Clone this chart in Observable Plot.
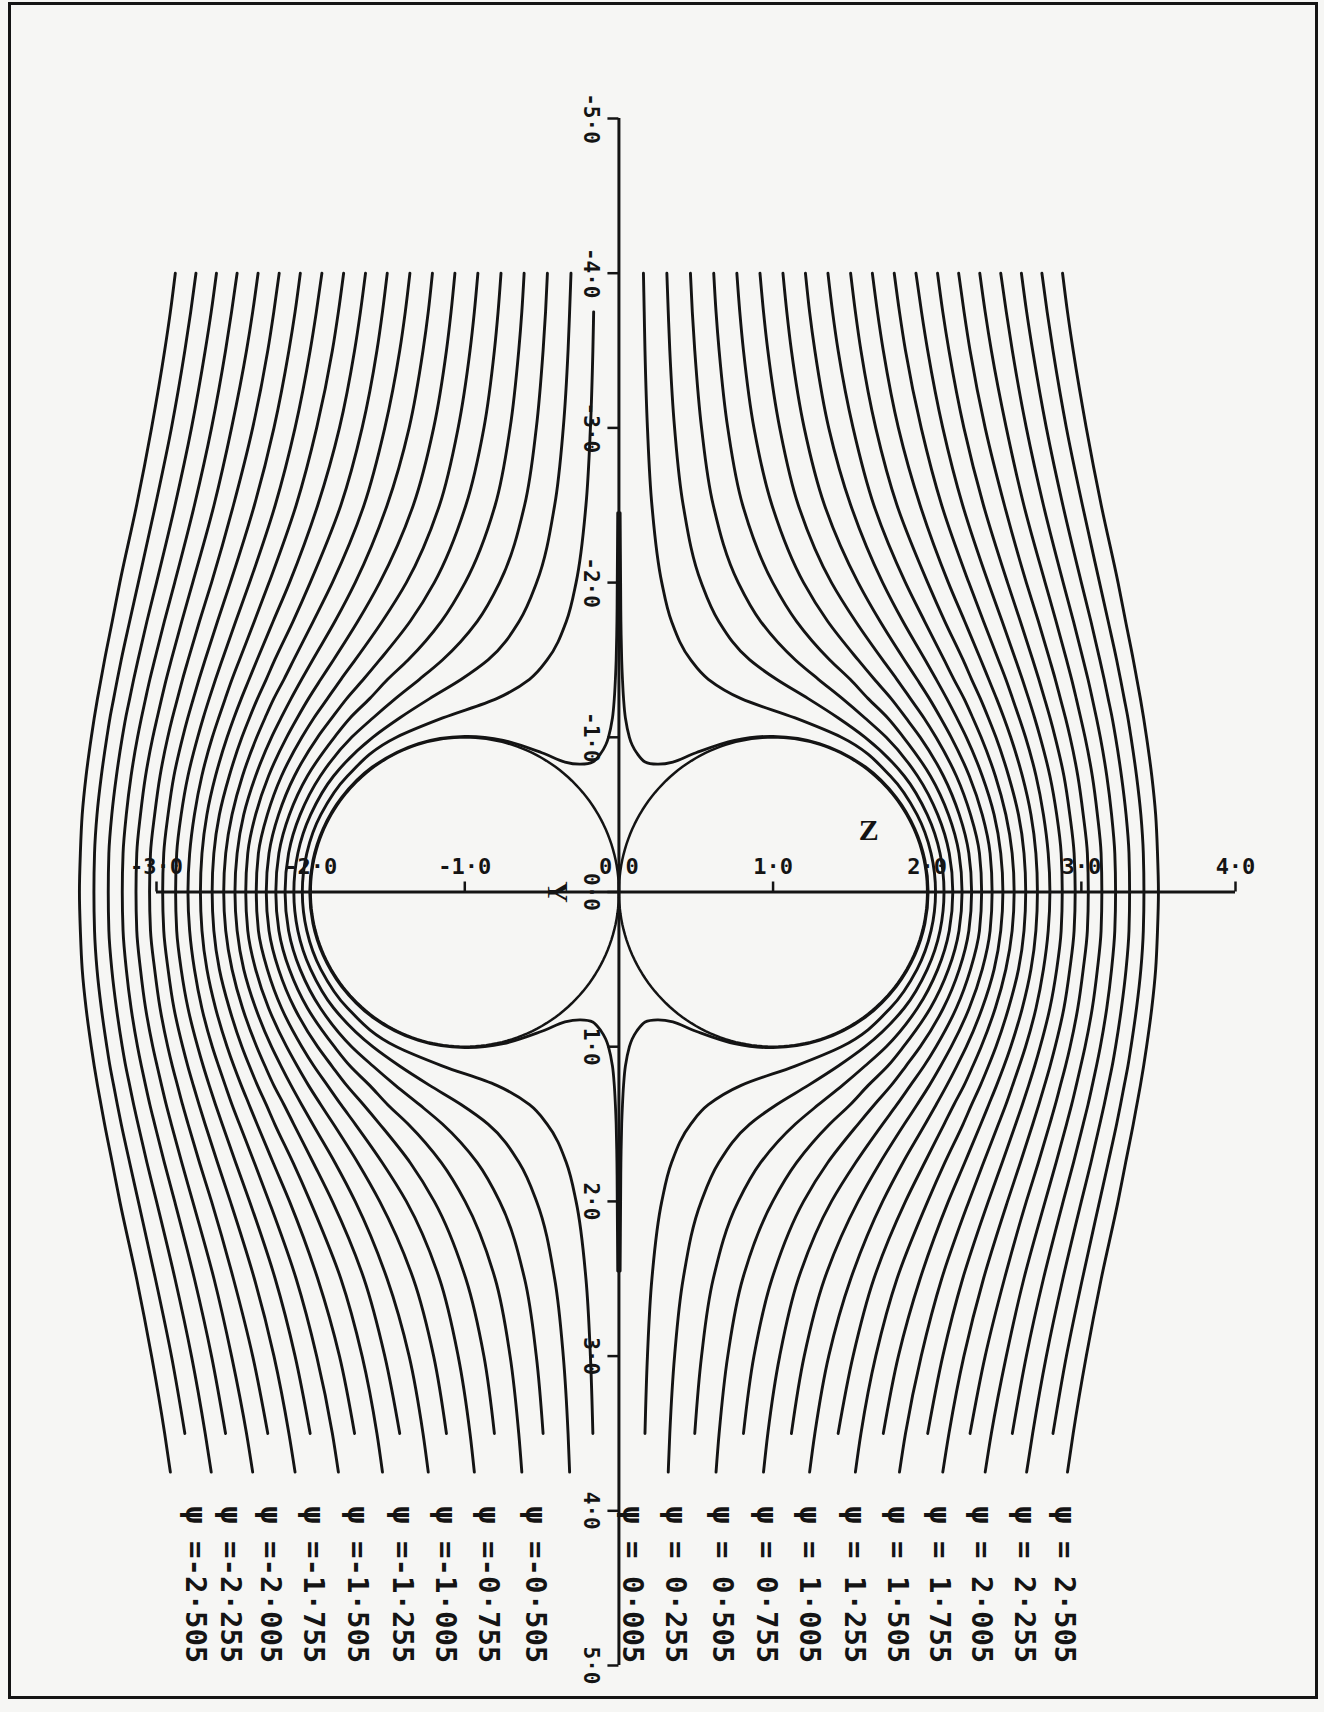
<!DOCTYPE html>
<html>
<head>
<meta charset="utf-8">
<script src="https://cdn.jsdelivr.net/npm/d3@7"></script>
<script src="https://cdn.jsdelivr.net/npm/@observablehq/plot@0.6"></script>
<style>
  html, body { margin: 0; padding: 0; background: #f6f6f4; }
  #chart svg { display: block; }
</style>
</head>
<body>
<div id="chart"></div>
<script>
// ---------------- data ----------------
// Y levels (upper half) at which each streamline's Z position was read
const yLevels = [-4, -3.75, -3.5, -3, -2.5, -2, -1.75, -1.5, -1.375, -1.25, -1.125, -1, -0.75, -0.5, -0.25, 0];

// stream-function value of each plotted streamline on the Z>0 side (mirror on Z<0)
const streamPsi = [0.13, 0.255, 0.38, 0.505, 0.63, 0.755, 0.88, 1.005, 1.13, 1.255,
                   1.38, 1.505, 1.63, 1.755, 1.88, 2.005, 2.13, 2.255, 2.38, 2.505];

// Z position of each streamline at the yLevels above (upper half; figure is mirror-symmetric)
const zPsi013 = [0.159, 0.164, 0.169, 0.185, 0.214, 0.278, 0.341, 0.466, 0.580, 0.793, 1.143, 1.443, 1.761, 1.934, 2.025, 2.054];
const zPsi026 = [0.311, 0.320, 0.330, 0.361, 0.417, 0.534, 0.647, 0.849, 1.022, 1.228, 1.423, 1.597, 1.851, 2.000, 2.083, 2.109];
const zPsi038 = [0.464, 0.476, 0.492, 0.536, 0.612, 0.774, 0.919, 1.145, 1.294, 1.450, 1.596, 1.734, 1.937, 2.068, 2.143, 2.166];
const zPsi051 = [0.615, 0.630, 0.650, 0.706, 0.803, 0.998, 1.152, 1.368, 1.500, 1.617, 1.744, 1.846, 2.021, 2.138, 2.206, 2.226];
const zPsi063 = [0.765, 0.784, 0.808, 0.876, 0.993, 1.198, 1.354, 1.552, 1.657, 1.766, 1.862, 1.955, 2.105, 2.208, 2.270, 2.288];
const zPsi076 = [0.915, 0.938, 0.966, 1.043, 1.164, 1.379, 1.535, 1.711, 1.803, 1.891, 1.979, 2.057, 2.189, 2.281, 2.339, 2.353];
const zPsi088 = [1.064, 1.089, 1.119, 1.202, 1.334, 1.552, 1.694, 1.852, 1.934, 2.014, 2.087, 2.156, 2.273, 2.357, 2.408, 2.421];
const zPsi101 = [1.210, 1.237, 1.271, 1.361, 1.504, 1.711, 1.842, 1.987, 2.058, 2.127, 2.192, 2.254, 2.357, 2.434, 2.477, 2.491];
const zPsi113 = [1.356, 1.386, 1.422, 1.519, 1.654, 1.859, 1.983, 2.110, 2.173, 2.239, 2.296, 2.350, 2.442, 2.510, 2.551, 2.564];
const zPsi126 = [1.503, 1.534, 1.570, 1.666, 1.804, 2.003, 2.114, 2.233, 2.288, 2.345, 2.397, 2.446, 2.528, 2.592, 2.628, 2.639];
const zPsi138 = [1.644, 1.677, 1.715, 1.813, 1.954, 2.137, 2.243, 2.348, 2.399, 2.450, 2.498, 2.542, 2.617, 2.673, 2.705, 2.715];
const zPsi151 = [1.786, 1.820, 1.859, 1.961, 2.094, 2.270, 2.365, 2.462, 2.510, 2.554, 2.597, 2.638, 2.706, 2.754, 2.785, 2.796];
const zPsi163 = [1.927, 1.963, 2.003, 2.101, 2.230, 2.396, 2.486, 2.574, 2.617, 2.658, 2.697, 2.733, 2.796, 2.840, 2.869, 2.876];
const zPsi176 = [2.067, 2.101, 2.141, 2.238, 2.365, 2.521, 2.604, 2.685, 2.724, 2.761, 2.797, 2.830, 2.887, 2.925, 2.953, 2.960];
const zPsi188 = [2.204, 2.239, 2.278, 2.376, 2.501, 2.643, 2.721, 2.795, 2.831, 2.864, 2.897, 2.927, 2.977, 3.012, 3.039, 3.045];
const zPsi201 = [2.341, 2.376, 2.416, 2.513, 2.627, 2.765, 2.836, 2.904, 2.937, 2.967, 2.996, 3.024, 3.071, 3.104, 3.128, 3.133];
const zPsi213 = [2.477, 2.513, 2.552, 2.643, 2.754, 2.882, 2.949, 3.012, 3.043, 3.071, 3.098, 3.123, 3.165, 3.196, 3.217, 3.222];
const zPsi226 = [2.611, 2.645, 2.684, 2.773, 2.880, 3.000, 3.062, 3.120, 3.148, 3.174, 3.200, 3.222, 3.260, 3.290, 3.309, 3.313];
const zPsi238 = [2.744, 2.778, 2.816, 2.903, 3.007, 3.118, 3.174, 3.229, 3.254, 3.278, 3.302, 3.322, 3.358, 3.386, 3.402, 3.406];
const zPsi251 = [2.878, 2.910, 2.947, 3.032, 3.129, 3.238, 3.287, 3.337, 3.360, 3.383, 3.404, 3.423, 3.457, 3.482, 3.494, 3.500];

// upper start (Y) of each streamline on the Z<0 side (innermost one begins below the -4.0 label)
const upperStartLeft = [-3.75, -4, -4, -4, -4, -4, -4, -4, -4, -4, -4, -4, -4, -4, -4, -4, -4, -4, -4, -4];
// lower end (Y) of each streamline in the lower half
const lowerEnd = [3.5, 3.75, 3.5, 3.75, 3.5, 3.75, 3.5, 3.75, 3.5, 3.75,
                  3.5, 3.75, 3.5, 3.75, 3.5, 3.75, 3.5, 3.75, 3.5, 3.75];

// the psi = 0.005 streamline (down the axis, across the cusp, along the sphere), upper half, Z>0 side
const hornZ = [0.008, 0.011, 0.013, 0.018, 0.023, 0.030, 0.042, 0.068, 0.086, 0.115, 0.170, 0.250, 0.350, 0.500, 0.750, 1.000, 1.300, 1.600, 1.800, 1.920, 1.985, 2.006];
const hornY = [-2.45, -2.0, -1.75, -1.5, -1.375, -1.25, -1.125, -1.0, -0.95, -0.9, -0.84, -0.826, -0.84, -0.9, -0.98, -1.006, -0.96, -0.808, -0.61, -0.407, -0.205, 0];

// the two spheres
const sphereCentreZ = [-1, 1];
const sphereCentreY = [0, 0];
const sphereRadius = [1, 1];

// axes
const zTicks = [-3, -2, -1, 0, 1, 2, 3, 4];
const yTicks = [-5, -4, -3, -2, -1, 0, 1, 2, 3, 4, 5];

// psi labels along the bottom
const labelPsi = [-2.505, -2.255, -2.005, -1.755, -1.505, -1.255, -1.005, -0.755, -0.505,
                  0.005, 0.255, 0.505, 0.755, 1.005, 1.255, 1.505, 1.755, 2.005, 2.255, 2.505];
const labelZ = [-2.748, -2.521, -2.262, -1.984, -1.698, -1.406, -1.128, -0.849, -0.544,
                0.084, 0.363, 0.668, 0.959, 1.238, 1.529, 1.808, 2.080, 2.353, 2.631, 2.890];
const labelStartY = 3.97;

const axisNames = [{text: "Z", z: 1.62, y: -0.40, rotate: 0}, {text: "Y", z: -0.40, y: 0, rotate: 90}];

// ---------------- build tables ----------------
const profiles = [zPsi013, zPsi026, zPsi038, zPsi051, zPsi063, zPsi076, zPsi088, zPsi101, zPsi113, zPsi126,
                  zPsi138, zPsi151, zPsi163, zPsi176, zPsi188, zPsi201, zPsi213, zPsi226, zPsi238, zPsi251];

const stream = [];
profiles.forEach((prof, i) => {
  for (const side of [1, -1]) {
    const key = `${side}:${streamPsi[i]}`;
    const start = side < 0 ? upperStartLeft[i] : yLevels[0];
    yLevels.forEach((lv, k) => { if (lv >= start - 1e-9) stream.push({key, h: side * prof[k], v: lv}); });
    for (let k = yLevels.length - 2; k >= 0; k--) {
      if (-yLevels[k] <= lowerEnd[i] + 1e-9) stream.push({key, h: side * prof[k], v: -yLevels[k]});
    }
  }
});

const horn = [];
for (const side of [1, -1]) {
  const key = `horn${side}`;
  hornZ.forEach((z, k) => horn.push({key, h: side * z, v: hornY[k]}));
  for (let k = hornZ.length - 2; k >= 0; k--) horn.push({key, h: side * hornZ[k], v: -hornY[k]});
}

const spheres = [];
sphereCentreZ.forEach((cz, s) => {
  for (let a = 0; a <= 360; a += 2) {
    const t = a * Math.PI / 180;
    spheres.push({key: s, h: cz + sphereRadius[s] * Math.cos(t), v: sphereCentreY[s] + sphereRadius[s] * Math.sin(t)});
  }
});

const fmtTick = d => (d < 0 ? "-" : "") + Math.abs(d).toFixed(1).replace(".", "·");
const fmtPsi = p => "ψ =" + (p < 0 ? "-" : " ") + Math.abs(p).toFixed(3).replace(".", "·");
const labels = labelPsi.map((p, i) => ({h: labelZ[i], text: fmtPsi(p)}));

const ink = "#141414";
const mono = "DejaVu Sans Mono";

const plot = Plot.plot({
  width: 1324,
  height: 1712,
  marginTop: 3, marginRight: 8, marginBottom: 15, marginLeft: 9,
  x: {domain: [-3, 4], range: [156, 1235], axis: null},
  y: {domain: [-5, 5], range: [118, 1665], axis: null},
  style: {background: "#f6f6f4"},
  marks: [
    Plot.frame({stroke: ink, strokeWidth: 3}),
    Plot.line(spheres, {x: "h", y: "v", z: "key", stroke: ink, strokeWidth: 2.5}),
    Plot.line(stream, {x: "h", y: "v", z: "key", curve: "monotone-y", stroke: ink, strokeWidth: 2.9}),
    Plot.line(horn, {x: "h", y: "v", z: "key", curve: "catmull-rom", stroke: ink, strokeWidth: 2.8}),
    Plot.ruleY([0], {x1: zTicks[0], x2: zTicks[zTicks.length - 1], stroke: ink, strokeWidth: 3}),
    Plot.ruleX([0], {y1: yTicks[0], y2: yTicks[yTicks.length - 1], stroke: ink, strokeWidth: 3}),
    Plot.ruleX(zTicks, {x: d => d, y1: 0, y2: 0, insetBottom: 10, stroke: ink, strokeWidth: 2.5}),
    Plot.ruleY(yTicks, {y: d => d, x1: 0, x2: 0, insetLeft: -11, stroke: ink, strokeWidth: 2.5}),
    Plot.text(zTicks, {x: d => d, y: 0, text: fmtTick, dy: -25, fontSize: 22, fontFamily: mono, fontWeight: "bold", fill: ink}),
    Plot.text(yTicks, {x: 0, y: d => d, text: fmtTick, rotate: 90, dx: -28, fontSize: 21, fontFamily: mono, fontWeight: "bold", fill: ink}),
    Plot.text(labels, {x: "h", y: labelStartY, text: "text", rotate: 90, textAnchor: "start", fontSize: 29, fontFamily: mono, fontWeight: "bold", fill: ink}),
    Plot.text(axisNames, {x: "z", y: "y", text: "text", rotate: "rotate", fontSize: 30, fontFamily: "Liberation Serif", fontWeight: "bold", fill: ink})
  ]
});

document.getElementById("chart").append(plot);
</script>
</body>
</html>
